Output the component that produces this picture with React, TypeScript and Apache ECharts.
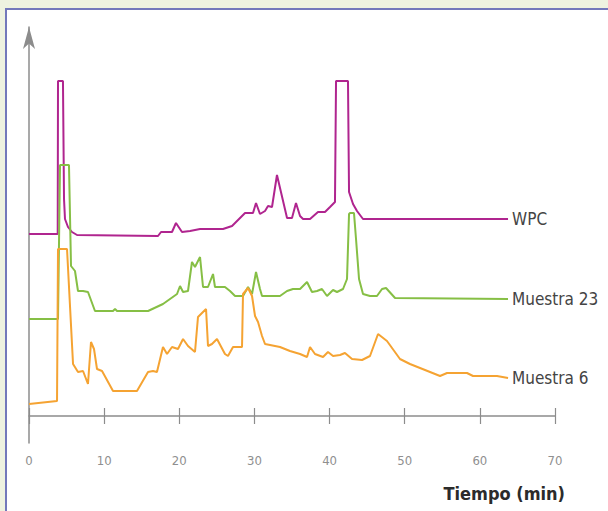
import React, { useEffect, useRef } from "react";
import * as echarts from "echarts";

const xTicks = [0, 10, 20, 30, 40, 50, 60, 70];
const seriesNames = ["WPC", "Muestra 23", "Muestra 6"];
const seriesColors = ["#b0258f", "#86bf45", "#f5a332"];

// [time (min), detector response (arbitrary, offset traces)]
const wpc: number[][] = [
  [0, 182], [3.82, 182], [3.86, 335], [4.52, 335], [4.66, 217], [4.79, 197], [5.19, 189],
  [5.72, 184], [6.39, 181], [17.17, 180], [17.57, 184], [19.03, 184], [19.56, 193],
  [20.36, 184], [21.43, 185], [22.76, 187], [25.82, 187], [27.02, 190], [28.75, 203],
  [29.81, 203], [30.21, 213], [30.74, 202], [31.41, 205], [31.81, 210], [32.34, 209],
  [33.0, 241], [34.34, 198], [35.0, 198], [35.53, 213], [36.07, 200], [36.47, 197],
  [37.4, 197], [38.46, 204], [39.39, 204], [40.06, 209], [40.72, 214], [40.86, 335],
  [42.45, 335], [42.59, 224], [43.12, 212], [43.65, 205], [44.45, 197], [63.75, 197],
];

const muestra23: number[][] = [
  [0, 97], [3.86, 97], [4.13, 251], [5.32, 251], [5.59, 150], [6.12, 145], [6.52, 125],
  [7.19, 125], [7.85, 124], [8.78, 105], [11.18, 105], [11.45, 107], [11.71, 105],
  [15.84, 105], [17.83, 112], [19.7, 122], [20.1, 130], [20.5, 124], [21.16, 125],
  [21.69, 154], [22.09, 149], [22.76, 159], [23.16, 129], [23.82, 129], [24.49, 142],
  [24.75, 129], [26.08, 129], [26.75, 125], [27.42, 120], [28.48, 120], [29.15, 129],
  [29.68, 122], [30.21, 144], [30.74, 127], [31.01, 120], [33.4, 120], [34.34, 125],
  [35.13, 127], [36.07, 127], [37.0, 134], [37.66, 124], [38.33, 125], [38.99, 127],
  [39.66, 120], [40.46, 126], [40.99, 124], [41.79, 127], [42.32, 137], [42.59, 202],
  [42.72, 203], [43.25, 203], [43.52, 177], [43.92, 137], [44.45, 122], [45.38, 120],
  [46.31, 120], [46.98, 127], [47.51, 128], [48.71, 118], [63.75, 117],
];

const muestra6: number[][] = [
  [0, 12], [3.73, 15], [3.86, 167], [5.06, 167], [5.86, 52], [6.52, 44], [7.19, 45],
  [7.85, 32], [8.25, 74], [8.65, 67], [9.05, 47], [9.72, 45], [11.18, 25], [14.37, 25],
  [15.84, 44], [16.5, 45], [17.03, 44], [17.83, 69], [18.37, 62], [19.03, 69], [19.83, 67],
  [20.5, 77], [21.16, 70], [22.09, 64], [22.49, 99], [23.56, 107], [23.82, 70], [24.35, 72],
  [25.02, 77], [26.08, 62], [26.48, 60], [27.15, 69], [28.35, 69], [28.48, 122],
  [29.15, 128], [29.68, 120], [30.08, 100], [30.48, 94], [31.01, 80], [31.41, 72],
  [33.4, 69], [34.73, 65], [36.07, 62], [37.0, 59], [37.4, 69], [38.06, 62], [39.13, 59],
  [39.79, 64], [40.46, 60], [41.39, 61], [42.05, 63], [42.99, 57], [44.32, 56], [45.38, 60],
  [46.45, 82], [47.64, 75], [49.37, 57], [50.7, 52], [53.37, 44], [54.7, 40], [55.63, 43],
  [58.29, 43], [59.09, 40], [62.28, 40], [63.75, 38],
];

const axisTitle = "Tiempo (min)";
const seriesData = [wpc, muestra23, muestra6];

const FONT = "'DejaVu Sans Condensed', 'Liberation Sans Narrow', Roboto, sans-serif";
const AXIS_COLOR = "#8c8c8c";

export default function App() {
  const ref = useRef<HTMLDivElement>(null);

  useEffect(() => {
    if (!ref.current) return;
    const chart = echarts.init(ref.current, null, { renderer: "svg" });
    const gridPos = { left: 29, right: 53, top: 27, bottom: 68 };
    const yRange = { min: -27, max: 389 };
    chart.setOption({
      animation: false,
      backgroundColor: "transparent",
      grid: [{ ...gridPos }, { ...gridPos }],
      xAxis: [
        {
          gridIndex: 0,
          type: "value",
          min: 0,
          max: 70,
          interval: 10,
          axisLine: { onZero: true, lineStyle: { color: AXIS_COLOR, width: 1.5 } },
          axisTick: { show: true, length: 8, inside: false, lineStyle: { color: AXIS_COLOR, width: 1.2 } },
          axisLabel: {
            margin: 11,
            color: "#8f8f8f",
            fontFamily: FONT,
            fontSize: 13,
            formatter: (v: number) => (xTicks.includes(v) ? String(v) : ""),
          },
          splitLine: { show: false },
        },
        {
          gridIndex: 1,
          type: "value",
          min: 0,
          max: 70,
          interval: 10,
          axisLine: { show: false, onZero: true },
          axisTick: { show: true, length: 8, inside: true, lineStyle: { color: AXIS_COLOR, width: 1.2 } },
          axisLabel: { show: false },
          splitLine: { show: false },
        },
      ],
      yAxis: [
        {
          gridIndex: 0,
          type: "value",
          ...yRange,
          axisLine: {
            show: true,
            onZero: false,
            symbol: ["none", "arrow"],
            symbolSize: [9, 22],
            lineStyle: { color: AXIS_COLOR, width: 1.5 },
          },
          axisTick: { show: false },
          axisLabel: { show: false },
          splitLine: { show: false },
        },
        {
          gridIndex: 1,
          type: "value",
          ...yRange,
          show: false,
          splitLine: { show: false },
        },
      ],
      series: seriesData.map((d, i) => ({
        type: "line",
        name: seriesNames[i],
        xAxisIndex: 0,
        yAxisIndex: 0,
        data: d,
        symbol: "none",
        lineStyle: { color: seriesColors[i], width: 2 },
        itemStyle: { color: seriesColors[i] },
        endLabel: {
          show: true,
          formatter: seriesNames[i],
          distance: 4,
          color: "#444",
          fontFamily: FONT,
          fontSize: 17,
        },
      })),
      graphic: [
        {
          type: "text",
          right: 43,
          top: 484,
          style: {
            text: axisTitle,
            fill: "#2b2b2b",
            font: "bold 18px " + FONT,
          },
        },
      ],
    });
    return () => chart.dispose();
  }, []);

  return (
    <div
      style={{
        position: "fixed",
        left: 0,
        top: 0,
        width: 608,
        height: 511,
        background: "#eef2e0",
        overflow: "hidden",
      }}
    >
      <div
        style={{
          position: "absolute",
          left: 5,
          top: 8,
          width: 620,
          height: 520,
          background: "#ffffff",
          borderLeft: "2px solid #7378bb",
          borderTop: "2px solid #7378bb",
        }}
      />
      <div ref={ref} style={{ position: "absolute", left: 0, top: 0, width: 608, height: 511 }} />
    </div>
  );
}
